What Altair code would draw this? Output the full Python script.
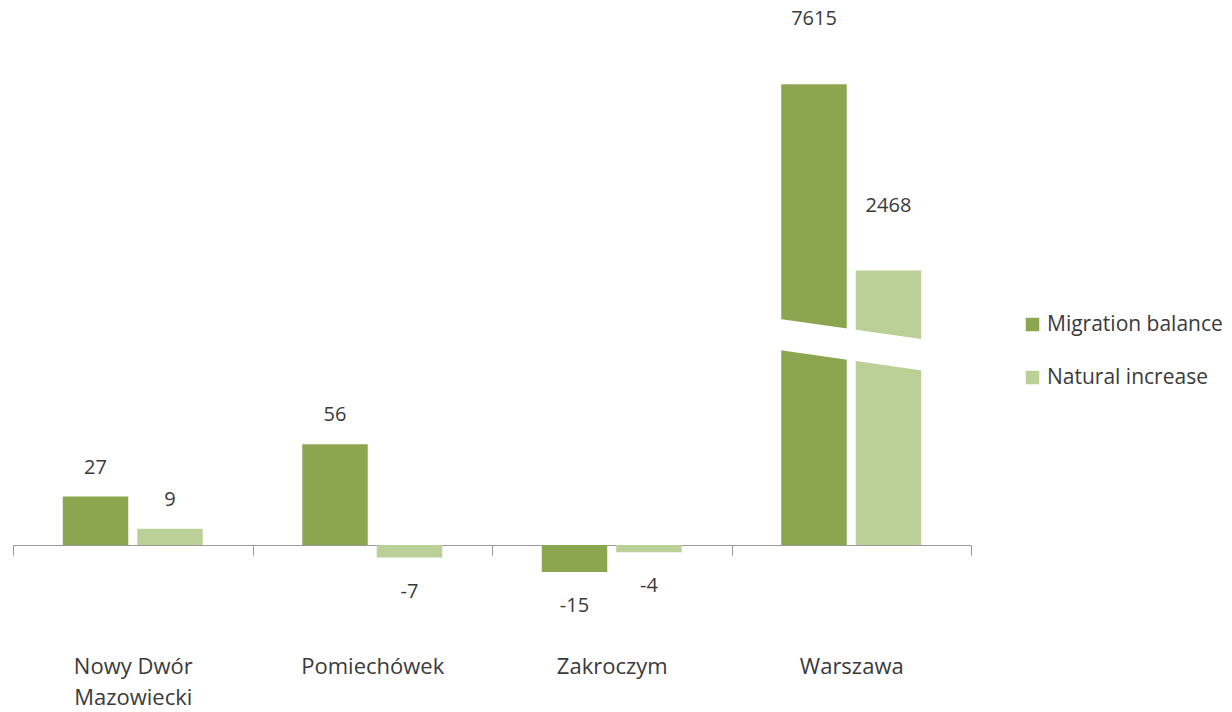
import altair as alt
import pandas as pd

categories = ["Nowy Dwór Mazowiecki", "Pomiechówek", "Zakroczym", "Warszawa"]
migration_balance = [27, 56, -15, 7615]
natural_increase = [9, -7, -4, 2468]
series_names = ["Migration balance", "Natural increase"]
series_colors = ["#8ca64f", "#bbd096"]

# broken axis: values above BREAK_T are compressed by BREAK_K
BREAK_T = 105
BREAK_K = 0.0201

rows = []
for c, m, n in zip(categories, migration_balance, natural_increase):
    rows.append({"category": c, "series": series_names[0], "value": m})
    rows.append({"category": c, "series": series_names[1], "value": n})
df = pd.DataFrame(rows)

FONT = "Open Sans"
FS = 20
FS_AXIS = 22
FS_LEGEND = 21
TEXT_COLOR = "#3a3a3a"
AXIS_COLOR = "#999999"
Y_DOMAIN = [-50, 298.33]

base = alt.Chart(df).transform_calculate(
    display=f"datum.value > {BREAK_T} ? {BREAK_T} + (datum.value - {BREAK_T}) * {BREAK_K} : datum.value"
).transform_calculate(
    label_pos=f"datum.value > {BREAK_T} ? datum.display + 36 : (datum.value >= 0 ? datum.display + 16 : datum.display - 19)"
)

x_scale = alt.Scale(paddingInner=0, paddingOuter=0)
xo_scale = alt.Scale(paddingInner=0.121, paddingOuter=0.668)
y_scale = alt.Scale(domain=Y_DOMAIN, nice=False, zero=False)

bars = base.mark_bar().encode(
    x=alt.X(
        "category:N",
        sort=categories,
        scale=x_scale,
        axis=alt.Axis(
            title=None,
            orient="bottom",
            offset=-90,
            domainColor=AXIS_COLOR,
            domainWidth=1,
            tickColor=AXIS_COLOR,
            tickSize=10,
            tickWidth=1,
            tickBand="extent",
            labelPadding=101,
            labelFont=FONT,
            labelFontSize=FS_AXIS,
            labelColor=TEXT_COLOR,
            labelLineHeight=31,
            labelAngle=0,
            labelLimit=300,
            labelExpr="datum.label == 'Nowy Dwór Mazowiecki' ? ['Nowy Dwór', 'Mazowiecki'] : datum.label",
        ),
    ),
    xOffset=alt.XOffset("series:N", sort=series_names, scale=xo_scale),
    y=alt.Y("display:Q", scale=y_scale, axis=None),
    color=alt.Color(
        "series:N",
        scale=alt.Scale(domain=series_names, range=series_colors),
        legend=alt.Legend(
            orient="none",
            legendX=1009,
            legendY=306,
            title=None,
            symbolType="square",
            symbolSize=182,
            symbolStrokeWidth=0,
            labelFont=FONT,
            labelFontSize=FS_LEGEND,
            labelColor=TEXT_COLOR,
            labelLimit=300,
            rowPadding=31,
            padding=0,
            labelOffset=4,
        ),
    ),
)

# white slanted band marking the axis break on the Warszawa bars
break_band = alt.Chart(pd.DataFrame({"k": [0]})).mark_rule(
    color="white", strokeWidth=31, strokeCap="butt"
).encode(
    x=alt.value(763),
    x2=alt.value(913),
    y=alt.value(326),
    y2=alt.value(347.4),
)

labels = base.mark_text(
    font=FONT, fontSize=FS, color=TEXT_COLOR, baseline="middle", align="center"
).encode(
    x=alt.X("category:N", sort=categories, scale=x_scale),
    xOffset=alt.XOffset("series:N", sort=series_names, scale=xo_scale),
    y=alt.Y("label_pos:Q", scale=y_scale, axis=None),
    text=alt.Text("value:N"),
)

chart = alt.layer(bars, break_band, labels).properties(
    width=958,
    height=627,
    padding={"left": 4, "top": 0, "right": 0, "bottom": 0},
).configure_view(stroke=None)

chart.save("out.html", embed_options={"renderer": "svg", "actions": False})
